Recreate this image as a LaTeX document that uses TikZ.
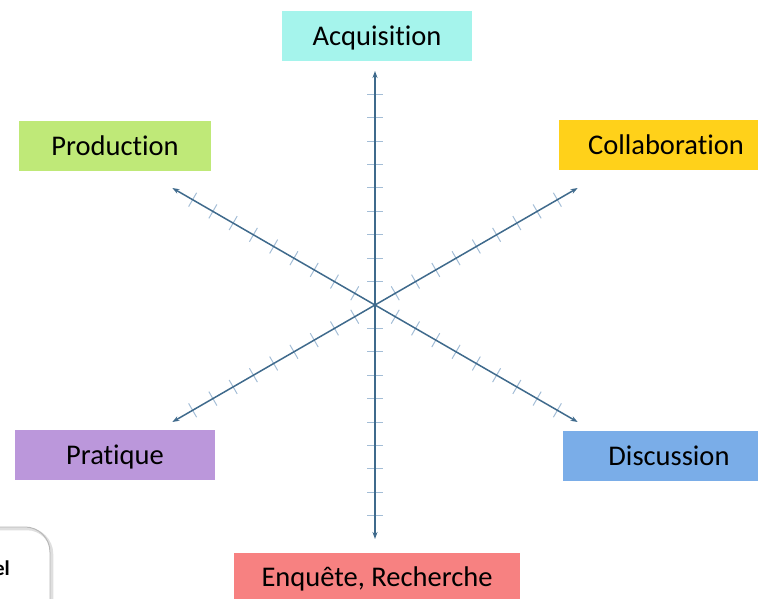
\documentclass[tikz,border=0pt]{standalone}
\usepackage{fontspec}
\setmainfont{Carlito}[Ligatures=CommonOff]
\usetikzlibrary{arrows.meta,calc}
\definecolor{acqcol}{HTML}{A5F4EC}
\definecolor{prodcol}{HTML}{BFE978}
\definecolor{collcol}{HTML}{FFD11A}
\definecolor{pratcol}{HTML}{BB97DB}
\definecolor{disccol}{HTML}{7AADE8}
\definecolor{enqcol}{HTML}{F78181}
\definecolor{axiscol}{HTML}{3F6A8C}
\definecolor{tickcol}{HTML}{A3BDD6}
\tikzset{
  lbox/.style={fill=#1, inner sep=0pt, minimum height=50pt,
    text height=18.4pt, text depth=0pt,
    font=\fontsize{28.5}{30}\selectfont},
  axis/.style={draw=axiscol, line width=1.5pt,
    {Stealth[length=7pt,width=5pt]}-{Stealth[length=7pt,width=5pt]}},
  axtick/.style={draw=tickcol, line width=1pt}
}
\begin{document}
\begin{tikzpicture}[x=1pt,y=-1pt]
\useasboundingbox (0,0) rectangle (758,599);
% boxes
\node[lbox=acqcol, minimum width=190pt] (acq) at (377,36) {Acquisition};
\node[lbox=prodcol, minimum width=192pt] (prod) at (115,146) {Production};
\node[lbox=collcol, minimum width=214pt] (coll) at (666,145) {Collaboration};
\node[lbox=pratcol, minimum width=200pt] (prat) at (115,455) {Pratique};
\node[lbox=disccol, minimum width=212pt] (disc) at (669,456) {Discussion};
\node[lbox=enqcol, minimum width=286pt] (enq) at (377,577.5) {Enquête, Recherche};
% axes
\coordinate (c) at (375,305);
\coordinate (top) at ($(c)+(-90:234)$);
\coordinate (bot) at ($(c)+(90:234)$);
\coordinate (ul) at ($(c)+(-150:234)$);
\coordinate (lr) at ($(c)+(30:234)$);
\coordinate (ur) at ($(c)+(-30:234)$);
\coordinate (ll) at ($(c)+(150:234)$);
\begin{scope}[shift={(c)}]
\foreach \a in {90,30,150}
  \foreach \k in {-9,...,-1,1,2,...,9}
    \path[axtick] (\a:23.4*\k) ++(\a+90:8) -- ++(\a-90:16);
\end{scope}
\path[axis] (top) -- (bot);
\path[axis] (ul) -- (lr);
\path[axis] (ur) -- (ll);
% corner box
\draw[gray!25, line width=2.5pt, rounded corners=25pt] (-80,529) rectangle (52,700);
\draw[gray!55, line width=1pt, rounded corners=25pt] (-80,527) rectangle (50,700);
\node[anchor=base east, inner sep=0pt, font=\fontsize{21}{23}\selectfont\bfseries] (cornertxt) at (10,575) {el};
\end{tikzpicture}
\end{document}
